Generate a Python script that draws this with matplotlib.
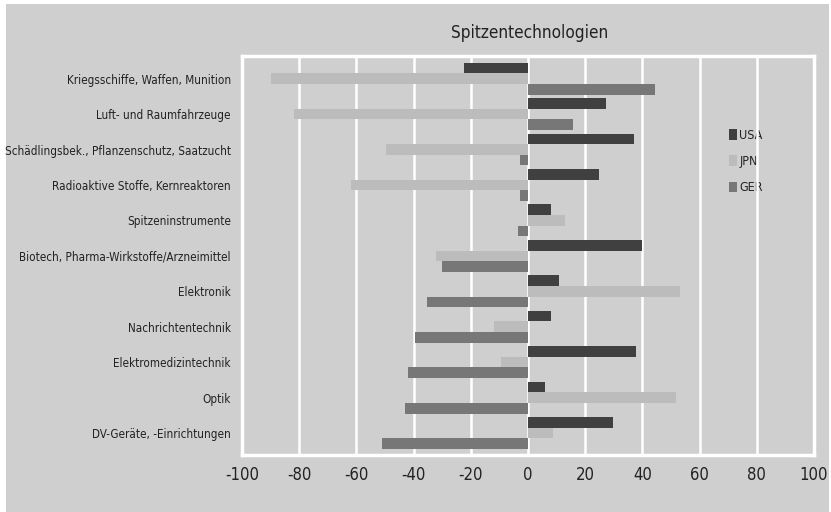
import matplotlib.pyplot as plt
import matplotlib.patches as mpatches
import numpy as np

# Data
categories = [
    "Kriegsschiffe, Waffen, Munition",
    "Luft- und Raumfahrzeuge",
    "Schädlingsbek., Pflanzenschutz, Saatzucht",
    "Radioaktive Stoffe, Kernreaktoren",
    "Spitzeninstrumente",
    "Biotech, Pharma-Wirkstoffe/Arzneimittel",
    "Elektronik",
    "Nachrichtentechnik",
    "Elektromedizintechnik",
    "Optik",
    "DV-Geräte, -Einrichtungen",
]
usa = [-22.4, 27.2, 36.9, 24.7, 8.2, 40.0, 10.8, 8.1, 37.7, 6.0, 29.6]
jpn = [-89.7, -81.9, -49.6, -62.0, 12.8, -32.0, 53.1, -11.8, -9.5, 51.7, 8.7]
ger = [44.4, 15.7, -2.7, -2.7, -3.6, -30.0, -35.3, -39.4, -42.1, -43.1, -51.1]
series_names = ["USA", "JPN", "GER"]
xticks = [-100, -80, -60, -40, -20, 0, 20, 40, 60, 80, 100]

colors = ["#404040", "#bcbcbc", "#777777"]
bg = "#cfcfcf"
txt = "#222222"

plt.rcParams["font.family"] = ["DejaVu Sans"]
plt.rcParams["font.stretch"] = "condensed"

fig = plt.figure(figsize=(8.31, 5.12), dpi=100, facecolor="white")
fig.patches.append(mpatches.Rectangle((6 / 831, 0), 823 / 831, 508 / 512,
                                      transform=fig.transFigure,
                                      facecolor=bg, edgecolor="none", zorder=-5))

ax = fig.add_axes([242 / 831, 1 - 455 / 512, 572 / 831, 399 / 512])
ax.set_facecolor(bg)

y = np.arange(len(categories))
h = 0.3
for k, (vals, name) in enumerate(zip([usa, jpn, ger], series_names)):
    ax.barh(y + (k - 1) * h, vals, height=h, color=colors[k], label=name, zorder=2)

ax.set_xlim(-100, 100)
ax.set_ylim(10.62, -0.64)
ax.set_xticks(xticks)
ax.set_xticklabels([str(t) for t in xticks])
ax.set_yticks(y)
ax.set_yticklabels(categories)
ax.tick_params(axis="x", length=0, pad=8, labelsize=12, labelcolor=txt)
ax.tick_params(axis="y", length=0, pad=8, labelsize=8.4, labelcolor=txt)

ax.set_axisbelow(True)
ax.grid(axis="x", color="white", linewidth=1.8)
ax.grid(axis="y", visible=False)
for s in ax.spines.values():
    s.set_color("white")
    s.set_linewidth(2.5)

leg = ax.legend(loc="upper left", bbox_to_anchor=(0.843, 0.83), frameon=False,
                handlelength=0.6, handleheight=0.9, handletextpad=0.2,
                labelspacing=1.05, fontsize=9, borderaxespad=0)
for t in leg.get_texts():
    t.set_color(txt)
leg.set_zorder(0.4)

fig.text(530 / 831, 1 - 33 / 512, "Spitzentechnologien", ha="center", va="center",
         fontsize=12.3, color=txt)

fig.savefig("out.png", dpi=100, facecolor=fig.get_facecolor())
